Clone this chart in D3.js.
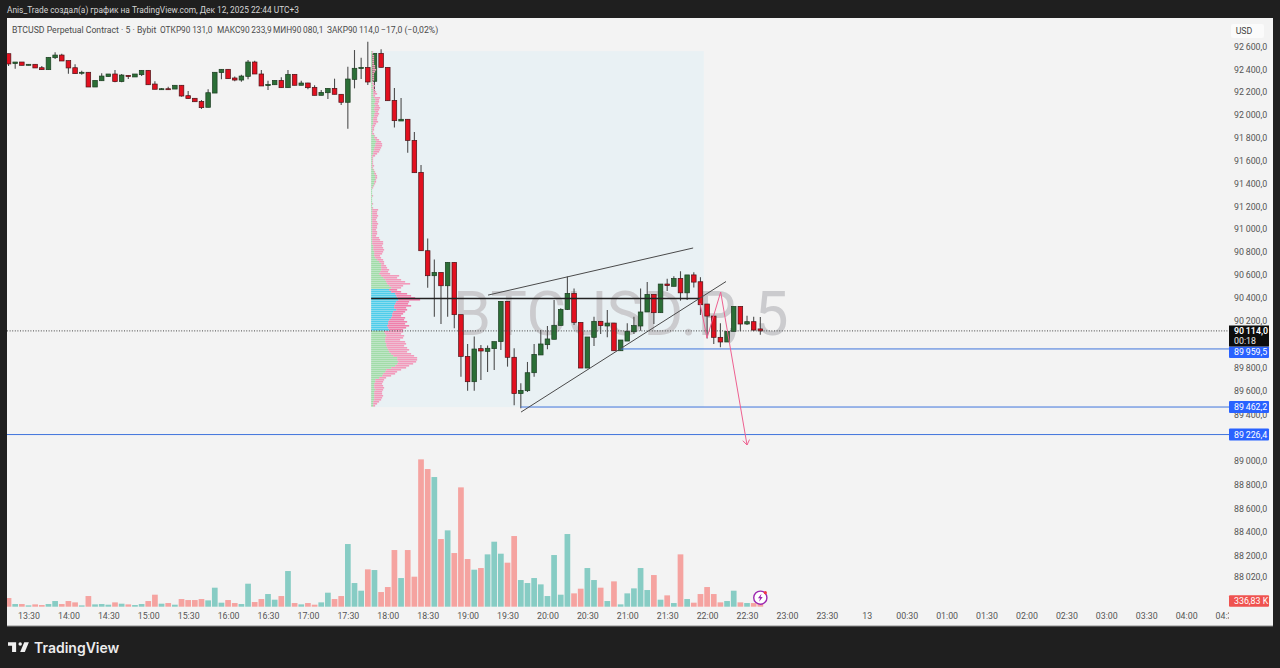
<!DOCTYPE html>
<html><head><meta charset="utf-8">
<script src="https://cdn.jsdelivr.net/npm/d3@7"></script>
<style>html,body{margin:0;padding:0;background:#1f1f1f;overflow:hidden}text{font-family:Roboto,sans-serif}</style>
</head><body><svg id="c" width="1280" height="668"></svg>
<script>
const firstBar=-3;
const open=[92537,92450,92464,92435,92444,92414,92397,92502,92525,92476,92414,92368,92374,92245,92300,92336,92359,92292,92347,92333,92353,92391,92271,92227,92230,92227,92260,92169,92146,92119,92067,92192,92371,92400,92324,92306,92338,92464,92359,92257,92265,92303,92239,92356,92260,92280,92242,92172,92195,92233,92181,92111,92312,92406,92417,92295,92540,92417,92128,91947,91962,91777,91497,90810,90591,90620,90503,90708,90253,89896,89679,89962,89939,89962,90022,90367,89888,89577,89602,89756,89908,89996,90042,90161,90298,90436,90187,89796,90059,90196,90156,90181,89944,90027,90107,90156,90276,90427,90270,90518,90498,90567,90441,90598,90538,90344,90241,90059,90019,90110,90324,90173,90193,90131];
const close=[92447,92464,92435,92444,92412,92397,92505,92525,92473,92412,92362,92374,92245,92303,92341,92359,92292,92350,92336,92359,92391,92265,92225,92230,92227,92260,92166,92143,92116,92064,92195,92374,92400,92318,92306,92341,92464,92359,92254,92268,92303,92239,92356,92260,92280,92239,92172,92198,92233,92181,92111,92315,92409,92417,92289,92540,92417,92125,91950,91962,91777,91494,90810,90591,90620,90503,90708,90253,89896,89679,89959,89942,89965,90022,90367,89888,89577,89605,89756,89913,90002,90045,90162,90298,90436,90187,89796,90062,90196,90159,90181,89944,90036,90110,90159,90276,90427,90270,90518,90504,90567,90441,90598,90535,90338,90241,90059,90019,90110,90324,90173,90193,90121,90114];
const high=[92537,92464,92464,92444,92444,92429,92505,92549,92537,92476,92444,92388,92374,92303,92365,92359,92394,92359,92347,92359,92391,92391,92295,92236,92248,92260,92260,92210,92146,92131,92225,92374,92400,92400,92336,92353,92482,92476,92394,92300,92303,92330,92394,92356,92300,92283,92260,92219,92233,92318,92181,92423,92569,92502,92642,92540,92575,92417,92236,92149,91962,91850,91561,90918,90734,90620,90708,90708,90253,90002,90065,89993,89990,90022,90367,90367,89965,89665,89848,90002,90122,90156,90379,90307,90584,90478,90187,90062,90236,90196,90293,90181,90036,90179,90236,90478,90535,90427,90518,90564,90587,90630,90598,90621,90578,90344,90241,90179,90110,90324,90324,90244,90236,90233.9];
const low=[92429,92406,92435,92435,92412,92397,92397,92490,92473,92362,92362,92353,92245,92245,92300,92336,92286,92286,92315,92333,92341,92265,92225,92222,92222,92227,92160,92143,92116,92052,92067,92192,92312,92318,92295,92292,92312,92359,92254,92219,92265,92239,92239,92260,92260,92225,92172,92172,92140,92181,92087,91880,92233,92315,92263,92198,92417,92125,91891,91947,91669,91494,90810,90486,90236,90173,90236,90136,89722,89602,89602,89694,89762,89779,89951,89808,89477,89451,89591,89722,89908,89956,90042,90161,90293,90164,89796,89796,89984,90087,90059,89944,89944,90027,90087,90116,90276,90173,90270,90458,90498,90373,90378,90487,90250,90050,90002,89973,90019,90110,90110,90164,90110,90080.1];
const volumeK=[728,224,224,112,196,140,224,476,224,476,364,112,896,196,224,168,364,252,196,140,224,476,1008,252,308,168,644,560,560,644,532,1596,336,560,308,224,1932,392,644,1064,588,896,2996,308,196,308,168,364,1176,644,896,5264,1988,1344,3136,3080,1232,1652,4760,2408,4760,2520,12376,11564,10892,5684,6412,4508,10024,4004,3108,3248,4396,5460,4452,3696,5936,2240,1988,2408,1876,896,4340,1008,6104,1120,1512,3248,2240,1596,476,2128,196,1120,1540,3248,1400,2660,588,952,308,4396,644,336,1064,1652,1064,364,476,1344,364,308,308,336.83];
const profileTotal=[2,2,3,3,3,3, 3,4,4,5,4,3,3, 3,3,2,3,4,3, 4,5,6,4, 9,8,8,7,8,9,8,7,8,7,6,6,7,5, 4,3,3,2,3, 4,6,8,10,11,11,10,9,8,6,4, 2,2,2,2,3,2, 3,4,5,6,6,5,5,4,3, 2,1,1,1,2,1,1,1,2,1,2, 7,6,6,7,6,5,6,7,6,6,5,6,6,5, 8,9,12,12,11,12,13,12,11,9, 10,12,13,13,15,16,18,17,19, 28,26,30,34,39,32,30, 26,30,36,40,44,49, 38,37,40,35,36,34,32, 30,34,33,36,34,38,35,32, 32,30,33,32,29,34,35, 33,36,38,36,40,43, 46,46,45,42,38,35, 30,26,24,20,15, 13,12,11,12,13,12,11,11,12,11,10,8,6,4];
const profileUp=[1,1,1,1,1,1, 1,1,1,1,1,1,1, 1,1,1,1,2,1, 2,2,2,2, 3,4,4,3,4,3,3,4,3,3,2,2,2,2, 1,1,1,1,1, 3,3,4,5,4,4,3,3,2,2,1, 1,1,1,1,1,1, 2,3,3,4,4,4,3,3,2, 1,1,1,1,1,1,1,1,1,1,1, 1,1,1,1,1,1,1,1,1,1,1,1,1,1, 1,1,1,1,2,2,2,3,3,3, 4,6,8,10,10,10,10,9,8, 10,12,14,15,16,18,20, 18,20,24,25,26,27, 25,24,23,23,25,22,21, 21,20,18,17,17,16,17,18, 13,14,15,14,14,14,15, 15,16,17,18,20,22, 26,26,27,26,24,20, 15,14,12,11,8, 4,4,3,3,3,4,3,3,3,3,3,2,2,2];
const profileTop=92560, profileBottom=89462, vaHigh=90490, vaLow=90130, poc=90391;
const profileStart=51.5, profileEnd=101.5;
const priceTicks=[92600,92400,92200,92000,91800,91600,91400,91200,91000,90800,90600,90400,90200,89800,89600,89400,89000,88800,88600,88400,88200,88020,87820];
const timeTickBars=[0,6,12,18,24,30,36,42,48,54,60,66,72,78,84,90,96,102,108,114,120,126,132,138,144,150,156,162,168,174,180];
const timeLabels=["13:30","14:00","14:30","15:00","15:30","16:00","16:30","17:00","17:30","18:00","18:30","19:00","19:30","20:00","20:30","21:00","21:30","22:00","22:30","23:00","23:30","13","00:30","01:00","01:30","02:00","02:30","03:00","03:30","04:00","04:30"];
const channelUpper=[[69.07,90421],[99.9,90834]];
const channelLower=[[74.03,89419],[104.84,90540]];
const arrowPath=[[100.93,90353],[101.98,90053],[104.04,90448],[108,89137]];
const hLines=[{from:89,price:89959.5},{from:74,price:89462.2},{from:-3.3,price:89226.4}];
const lastPrice=90114, countdown="00:18", lastVolumeLabel="336,83 K";

const svg=d3.select("#c");
const x=d3.scaleLinear().domain([-3,183]).range([8.54,1246]);
const y=d3.scaleLinear().domain([87820,88020,89000,90400,92600]).range([600.6,577,461,297.5,46.5]);
const yV=d3.scaleLinear().domain([0,12264]).range([606.7,460.7]);
const L=7,R=1273,T=18,B=626,PR=1229;
const loc=d3.formatLocale({decimal:",",thousands:"\u2009",grouping:[3],minus:"\u2212"});
const fmt=loc.format(",.1f");

svg.append("rect").attr("width",1280).attr("height",668).attr("fill","#1f1f1f");
svg.append("rect").attr("x",L).attr("y",T).attr("width",R-L).attr("height",B-T).attr("fill","#f3f3f3");
svg.append("line").attr("x1",L).attr("x2",R).attr("y1",B).attr("y2",B).attr("stroke","#8d8d8d");
svg.append("defs").append("clipPath").attr("id","pane").append("rect").attr("x",L).attr("y",T).attr("width",PR-L).attr("height",B-T);

svg.append("text").attr("x",7).attr("y",13).attr("fill","#d6d6d6").style("font-size","8.35px")
  .text("Anis_Trade создал(а) график на TradingView.com, Дек 12, 2025 22:44 UTC+3");

const pane=svg.append("g").attr("clip-path","url(#pane)");
// profile box
pane.append("rect").attr("x",x(profileStart)).attr("y",y(profileTop)).attr("width",x(profileEnd)-x(profileStart))
  .attr("height",y(profileBottom)-y(profileTop)).attr("fill","#e9f1f4");
// watermark
pane.append("text").attr("x",621).attr("y",335).attr("text-anchor","middle").attr("fill","#cbcbce")
  .style("font-size","61px").style("letter-spacing","0.4px").text("BTCUSD.P, 5");

const idx=d3.range(open.length);
const barX=i=>x(i+firstBar);
// volume
pane.append("g").selectAll("rect").data(idx).join("rect")
  .attr("x",i=>barX(i)-2.85).attr("width",5.7).attr("y",i=>yV(volumeK[i])).attr("height",i=>yV(0)-yV(volumeK[i]))
  .attr("fill",i=>close[i]>=open[i]?"#87ccc4":"#f5a3a0");
// wicks
pane.append("g").selectAll("line").data(idx).join("line")
  .attr("x1",barX).attr("x2",barX).attr("y1",i=>y(high[i])).attr("y2",i=>y(low[i]))
  .attr("stroke","#4d4d4d").attr("stroke-width",1.1);
// bodies
pane.append("g").selectAll("rect").data(idx).join("rect")
  .attr("x",i=>barX(i)-2.3).attr("width",4.6)
  .attr("y",i=>y(Math.max(open[i],close[i])))
  .attr("height",i=>Math.max(1,Math.abs(y(open[i])-y(close[i]))))
  .attr("fill",i=>close[i]>=open[i]?"#2b6e36":"#e2101f")
  .attr("stroke",i=>close[i]>=open[i]?"#1d3d22":"#4a1418").attr("stroke-width",0.7);
// profile
const rowY=d3.scaleBand().domain(d3.range(profileTotal.length)).range([y(profileTop),y(profileBottom)]);
const rowPrice=k=>profileTop+(profileBottom-profileTop)*(k+.5)/profileTotal.length;
const pW=d3.scaleLinear().domain([0,50]).range([0,50]);
const px0=x(profileStart);
const inVA=k=>rowPrice(k)<=vaHigh&&rowPrice(k)>=vaLow;
const rowTop=k=>Math.round(rowY(k));
const pg=pane.append("g");
pg.selectAll("rect.t").data(profileTotal).join("rect").attr("class","t")
  .attr("x",(d,k)=>px0+pW(profileUp[k])).attr("y",(d,k)=>rowTop(k)).attr("height",1.6).attr("width",(d,k)=>Math.max(0,pW(d)-pW(profileUp[k])))
  .style("fill",(d,k)=>inVA(k)?"#f07fab":"#f29abb");
pg.selectAll("rect.u").data(profileUp).join("rect").attr("class","u")
  .attr("x",px0).attr("y",(d,k)=>rowTop(k)).attr("height",1.6).attr("width",d=>pW(d))
  .style("fill",(d,k)=>inVA(k)?"#4fcdea":"#a2dca8");
pane.append("line").attr("x1",px0).attr("x2",x(profileEnd)-4).attr("y1",y(poc)).attr("y2",y(poc)).attr("stroke","#222").attr("stroke-width",1.6);
// last price line
pane.append("line").attr("x1",L).attr("x2",PR).attr("y1",y(lastPrice)).attr("y2",y(lastPrice)).attr("stroke","#444").attr("stroke-width",1).attr("stroke-dasharray","1 1.6");
// horizontals
pane.append("g").selectAll("line.h").data(hLines).join("line").attr("class","h")
  .attr("x1",d=>x(d.from)).attr("x2",PR).attr("y1",d=>y(d.price)).attr("y2",d=>y(d.price))
  .attr("stroke","#3f74dc").attr("stroke-width",1);
// drawings
const ln=d3.line().x(d=>x(d[0])).y(d=>y(d[1]));
[channelUpper,channelLower].forEach(c=>pane.append("path").attr("d",ln(c)).attr("fill","none").attr("stroke","#4a4a4a").attr("stroke-width",1));
pane.append("path").attr("d",ln(arrowPath)).attr("fill","none").attr("stroke","#ee6090").attr("stroke-width",1);
(function(){
  const a=arrowPath[arrowPath.length-2],b=arrowPath[arrowPath.length-1];
  const bx=x(b[0]),by=y(b[1]),ang=Math.atan2(by-y(a[1]),bx-x(a[0]));
  const h=s=>[bx-6*Math.cos(ang+s),by-6*Math.sin(ang+s)];
  pane.append("path").attr("d",d3.line()([h(.6),[bx,by],h(-.6)])).attr("fill","none").attr("stroke","#ee6090").attr("stroke-width",1);
})();
// badge
const badge=svg.append("g").attr("transform",`translate(${barX(open.length-1)},597.7)`);
badge.append("circle").attr("r",6.6).attr("fill","#fff").attr("stroke","#9c27b0").attr("stroke-width",1.4);
badge.append("path").attr("d","M1.2,-4 L-2.4,0.6 L-0.3,0.6 L-1.2,4 L2.4,-0.8 L0.3,-0.8 Z").attr("fill","#9c27b0");
badge.append("circle").attr("cx",5).attr("cy",-5).attr("r",1.6).attr("fill","#f23645");

// axes
const timeAxis=d3.axisBottom(x).tickValues(timeTickBars).tickFormat((d,i)=>timeLabels[i]).tickSize(0).tickPadding(0);
const tg=svg.append("g").attr("clip-path","url(#pane)").append("g").attr("transform","translate(0,612.7)").call(timeAxis);
tg.select(".domain").remove();
tg.selectAll("text").attr("fill","#555").style("font-size","8.8px").style("font-family","Roboto");
const priceAxis=d3.axisRight(y).tickValues(priceTicks).tickFormat(fmt).tickSize(0).tickPadding(0);
const pa=svg.append("g").attr("transform","translate(1234,0)").call(priceAxis);
pa.select(".domain").remove();
pa.selectAll("text").attr("fill","#555").style("font-size","8.8px").style("font-family","Roboto");

// tags
function tag(yc,h,fill,lab){
  svg.append("rect").attr("x",PR).attr("y",yc-h/2).attr("width",40).attr("height",h).attr("fill",fill).attr("rx",1);
  svg.append("text").attr("x",1234).attr("y",yc).attr("dy",".34em").attr("fill","#fff").style("font-size","8.8px").text(lab);
}
hLines.forEach(d=>tag(d.price===89959.5?352.3:y(d.price),d.price===89959.5?11.5:12,"#2962ff",fmt(d.price)));
svg.append("rect").attr("x",PR).attr("y",325.5).attr("width",40).attr("height",21).attr("fill","#0d0d0d");
svg.append("text").attr("x",1234).attr("y",331).attr("dy",".34em").attr("fill","#fff").style("font-size","8.8px").style("font-weight",600).text(fmt(lastPrice));
svg.append("text").attr("x",1234).attr("y",341).attr("dy",".34em").attr("fill","#eee").style("font-size","8.8px").text(countdown);
tag(601,11.5,"#ef5350",lastVolumeLabel);
// USD
svg.append("rect").attr("x",1231).attr("y",24).attr("width",33).attr("height",14).attr("fill","#fbfbfb").attr("rx",2);
svg.append("text").attr("x",1244).attr("y",31).attr("dy",".34em").attr("text-anchor","middle").attr("fill","#444").style("font-size","8.8px").text("USD");

// legend
const o=open[open.length-1],h=high[high.length-1],l=low[low.length-1],c=close[close.length-1];
const legend=[[12,"BTCUSD Perpetual Contract · 5 · Bybit",8.7],[160,"ОТКР"+fmt(o),8.3],[217,"МАКС"+fmt(h),8.3],[273,"МИН"+fmt(l),8.3],[327,"ЗАКР"+fmt(c),8.3],[381,fmt(c-o)+" (−0,02%)",8.7]];
svg.append("g").selectAll("text.lg").data(legend).join("text").attr("class","lg").attr("x",d=>d[0]).attr("y",32.5).attr("fill","#4a4a4a").style("font-size",d=>d[2]+"px").text(d=>d[1]);

// logo
const logo=svg.append("g").attr("transform","translate(8,642.2) scale(.58)").attr("fill","#f0f0f0");
logo.append("path").attr("d","M14 0H0v6h7v11h7z");
logo.append("circle").attr("cx",21).attr("cy",3).attr("r",3);
logo.append("path").attr("d","M29 17h-8l7-17h8z");
svg.append("text").attr("x",34).attr("y",652.5).attr("fill","#ececec").style("font-size","14px").style("font-weight",600).style("font-family","Inter").text("TradingView");
</script></body></html>
